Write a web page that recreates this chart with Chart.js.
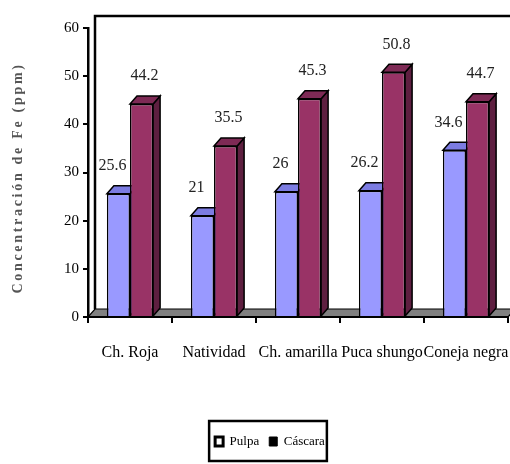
<!DOCTYPE html>
<html>
<head>
<meta charset="utf-8">
<script src="https://cdn.jsdelivr.net/npm/chart.js@4/dist/chart.umd.min.js"></script>
<style>
  html, body { margin: 0; padding: 0; background: #fff; }
  canvas { display: block; }
</style>
</head>
<body>
<canvas id="c" width="510" height="464"></canvas>
<script>
// Iron concentration (ppm) in pulp and peel of five varieties
const categories = ['Ch. Roja', 'Natividad', 'Ch. amarilla', 'Puca shungo', 'Coneja negra'];
const pulpa = [25.6, 21, 26, 26.2, 34.6];
const cascara = [44.2, 35.5, 45.3, 50.8, 44.7];
const seriesNames = ['Pulpa', 'Cáscara'];
const yTicks = [0, 10, 20, 30, 40, 50, 60];
const yTitle = 'Concentración de Fe (ppm)';

// face colours: front, top, side
const faces = [
  { front: '#9999FF', top: '#7C7CE2', side: '#5C5CB8' },
  { front: '#993366', top: '#7E2A55', side: '#5E1F40' }
];

const DX = 7, DY = 8;            // extrusion of each bar
const WALL_DX = 7, WALL_DY = 12; // offset of back wall
const LABEL_DX = [-6, 3];        // horizontal nudge of value labels per series
const LEGEND_SHIFT = 16;         // legend sits a little right of centre

const serif = "'Liberation Serif', 'DejaVu Serif', serif";

const depthPlugin = {
  id: 'depth3d',
  afterLayout(chart) {
    const lg = chart.legend;
    if (lg) { lg.left += LEGEND_SHIFT; lg.right += LEGEND_SHIFT; }
  },
  beforeDraw(chart) {
    const { ctx, chartArea: a } = chart;
    ctx.save();
    // floor
    ctx.beginPath();
    ctx.moveTo(a.left, a.bottom);
    ctx.lineTo(a.right, a.bottom);
    ctx.lineTo(a.right + WALL_DX, a.bottom - DY);
    ctx.lineTo(a.left + WALL_DX, a.bottom - DY);
    ctx.closePath();
    ctx.fillStyle = '#808080';
    ctx.fill();
    ctx.lineWidth = 1.2;
    ctx.strokeStyle = '#000';
    ctx.stroke();
    // back wall outline
    ctx.beginPath();
    ctx.moveTo(a.left + WALL_DX, a.bottom - DY);
    ctx.lineTo(a.left + WALL_DX, a.top - WALL_DY);
    ctx.lineTo(chart.width + 2, a.top - WALL_DY);
    ctx.lineWidth = 2.5;
    ctx.stroke();
    ctx.restore();
  },
  beforeDatasetsDraw(chart) {
    const { ctx } = chart;
    ctx.save();
    ctx.lineWidth = 1.5;
    ctx.strokeStyle = '#000';
    ctx.lineJoin = 'miter';
    chart.data.datasets.forEach((ds, di) => {
      const meta = chart.getDatasetMeta(di);
      meta.data.forEach(bar => {
        const { x, y, base, width } = bar.getProps(['x', 'y', 'base', 'width'], true);
        const l = x - width / 2, r = x + width / 2;
        // side face
        ctx.beginPath();
        ctx.moveTo(r, y);
        ctx.lineTo(r + DX, y - DY);
        ctx.lineTo(r + DX, base - DY);
        ctx.lineTo(r, base);
        ctx.closePath();
        ctx.fillStyle = faces[di].side;
        ctx.fill();
        ctx.stroke();
        // top face
        ctx.beginPath();
        ctx.moveTo(l, y);
        ctx.lineTo(l + DX, y - DY);
        ctx.lineTo(r + DX, y - DY);
        ctx.lineTo(r, y);
        ctx.closePath();
        ctx.fillStyle = faces[di].top;
        ctx.fill();
        ctx.stroke();
      });
    });
    ctx.restore();
  },
  afterDatasetsDraw(chart) {
    const { ctx } = chart;
    ctx.save();
    ctx.font = '16px ' + serif;
    ctx.fillStyle = '#222';
    ctx.textAlign = 'center';
    ctx.textBaseline = 'middle';
    chart.data.datasets.forEach((ds, di) => {
      const meta = chart.getDatasetMeta(di);
      meta.data.forEach((bar, i) => {
        const { x, y } = bar.getProps(['x', 'y'], true);
        ctx.fillText(String(ds.data[i]), x + LABEL_DX[di], y - 28);
      });
    });
    ctx.restore();
  },
  afterDraw(chart) {
    const { ctx } = chart;
    // vertical axis title
    ctx.save();
    ctx.translate(18, 178);
    ctx.rotate(-Math.PI / 2);
    ctx.font = 'bold 14px ' + serif;
    ctx.letterSpacing = '2.7px';
    ctx.fillStyle = '#555';
    ctx.textAlign = 'center';
    ctx.textBaseline = 'middle';
    ctx.fillText(yTitle, 0, 0);
    ctx.restore();
    // legend frame
    const hb = chart.legend.legendHitBoxes;
    if (hb && hb.length) {
      const left = Math.min(...hb.map(h => h.left)) - 6;
      const right = Math.max(...hb.map(h => h.left + h.width)) + 2;
      const top = Math.min(...hb.map(h => h.top)) - 14;
      const bottom = Math.max(...hb.map(h => h.top + h.height)) + 13;
      ctx.save();
      ctx.lineWidth = 2.5;
      ctx.strokeStyle = '#000';
      ctx.strokeRect(left, top, right - left, bottom - top);
      ctx.restore();
    }
  }
};

new Chart(document.getElementById('c'), {
  type: 'bar',
  data: {
    labels: categories,
    datasets: [
      { label: seriesNames[0], data: pulpa, backgroundColor: faces[0].front, borderColor: '#000', borderWidth: 1.5 },
      { label: seriesNames[1], data: cascara, backgroundColor: faces[1].front, borderColor: '#000', borderWidth: 1.5 }
    ]
  },
  options: {
    responsive: false,
    animation: false,
    devicePixelRatio: 1,
    layout: { padding: { top: 28, right: 2, left: 0, bottom: 6 } },
    datasets: { bar: { barPercentage: 1, categoryPercentage: 0.55 } },
    plugins: {
      tooltip: { enabled: false },
      legend: {
        position: 'bottom',
        labels: {
          font: { family: serif, size: 13 },
          color: '#000',
          boxWidth: 8,
          boxHeight: 9,
          padding: 10,
          generateLabels(chart) {
            return seriesNames.map((name, i) => ({
              text: name,
              datasetIndex: i,
              fillStyle: i === 0 ? '#fff' : '#000',
              strokeStyle: '#000',
              lineWidth: i === 0 ? 3 : 1,
              hidden: false
            }));
          }
        }
      }
    },
    scales: {
      x: {
        afterFit(s) { s.height = 108; s.paddingLeft = 0; s.paddingRight = 0; },
        border: { color: '#000', width: 2 },
        grid: { offset: true, drawOnChartArea: false, drawTicks: true, tickLength: 6, color: '#000', lineWidth: 2 },
        ticks: { font: { family: serif, size: 16 }, color: '#000', padding: 20, maxRotation: 0, autoSkip: false }
      },
      y: {
        min: yTicks[0],
        max: yTicks[yTicks.length - 1],
        afterFit(s) { s.width = 88; s.paddingTop = 0; s.paddingBottom = 0; },
        afterBuildTicks(s) { s.ticks = yTicks.map(v => ({ value: v })); },
        border: { color: '#000', width: 2.5 },
        grid: { drawOnChartArea: false, drawTicks: true, tickLength: 5, color: '#000', lineWidth: 2 },
        ticks: { font: { family: serif, size: 15 }, color: '#000', padding: 4 }
      }
    }
  },
  plugins: [depthPlugin]
});
</script>
</body>
</html>
